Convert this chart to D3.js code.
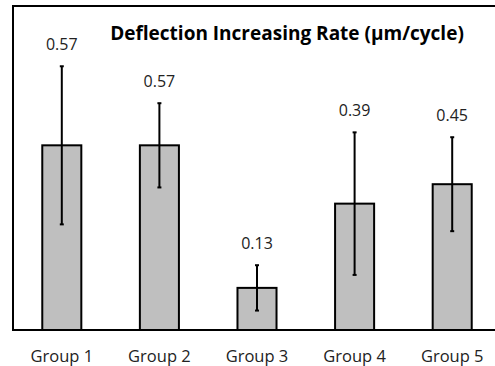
<!DOCTYPE html>
<html>
<head>
<meta charset="utf-8">
<script src="https://cdn.jsdelivr.net/npm/d3@7"></script>
<style>
html, body { margin: 0; padding: 0; background: #fff; overflow: hidden; }
svg { display: block; }
</style>
</head>
<body>
<svg id="chart" width="495" height="366"></svg>
<script>
const categories = ["Group 1", "Group 2", "Group 3", "Group 4", "Group 5"];
const values = [0.57, 0.57, 0.13, 0.39, 0.45];
const errors = [0.244, 0.13, 0.07, 0.22, 0.145];
const valueLabels = ["0.57", "0.57", "0.13", "0.39", "0.45"];
const title = "Deflection Increasing Rate (\u00b5m/cycle)";

const W = 495, H = 366;
const plot = { left: 13, top: 6, right: 501, bottom: 330 };

const svg = d3.select("#chart");

const x = d3.scaleBand()
  .domain(categories)
  .range([plot.left, plot.right])
  .paddingInner(0.6)
  .paddingOuter(0.3);

const y = d3.scaleLinear()
  .domain([0, 1])
  .range([plot.bottom, plot.top]);

const data = categories.map((c, i) => ({ c, v: values[i], e: errors[i], label: valueLabels[i] }));

// bars
svg.append("g").selectAll("rect")
  .data(data)
  .join("rect")
  .attr("x", d => x(d.c))
  .attr("y", d => y(d.v))
  .attr("width", x.bandwidth())
  .attr("height", d => y(0) - y(d.v))
  .attr("fill", "#bfbfbf")
  .attr("stroke", "#000")
  .attr("stroke-width", 2);

// frame: left, top and bottom lines (right side is cut off in the picture)
const fg = svg.append("g").attr("stroke", "#000").attr("stroke-width", 2);
fg.append("line").attr("x1", plot.left).attr("x2", plot.left).attr("y1", plot.top - 1).attr("y2", plot.bottom + 1);
fg.append("line").attr("x1", plot.left).attr("x2", W).attr("y1", plot.top).attr("y2", plot.top);
fg.append("line").attr("x1", plot.left).attr("x2", W).attr("y1", plot.bottom).attr("y2", plot.bottom);

// error bars
const eg = svg.append("g").attr("stroke", "#000").attr("stroke-width", 2);
data.forEach(d => {
  const cx = x(d.c) + x.bandwidth() / 2;
  eg.append("line")
    .attr("x1", cx).attr("x2", cx)
    .attr("y1", y(d.v + d.e)).attr("y2", y(d.v - d.e));
  [d.v + d.e, d.v - d.e].forEach(t => {
    eg.append("line")
      .attr("x1", cx - 2).attr("x2", cx + 2)
      .attr("y1", y(t)).attr("y2", y(t));
  });
});

// value labels
svg.append("g").selectAll("text")
  .data(data)
  .join("text")
  .attr("x", d => x(d.c) + x.bandwidth() / 2)
  .attr("y", d => y(d.v + d.e) - 16)
  .attr("text-anchor", "middle")
  .attr("font-family", "'Open Sans', sans-serif")
  .attr("font-size", 16)
  .attr("fill", "#222")
  .text(d => d.label);

// x axis labels
const xAxis = d3.axisBottom(x).tickSize(0).tickPadding(20);
const ax = svg.append("g")
  .attr("transform", `translate(0,${plot.bottom})`)
  .call(xAxis);
ax.select(".domain").remove();
ax.selectAll("text")
  .attr("font-family", "'Open Sans', sans-serif")
  .attr("font-size", 16.5)
  .attr("fill", "#222");

// title
svg.append("text")
  .attr("x", 287)
  .attr("y", 40)
  .attr("text-anchor", "middle")
  .attr("font-family", "'Open Sans', sans-serif")
  .attr("font-weight", "bold")
  .attr("font-size", 19)
  .attr("fill", "#000")
  .text(title);
</script>
</body>
</html>
